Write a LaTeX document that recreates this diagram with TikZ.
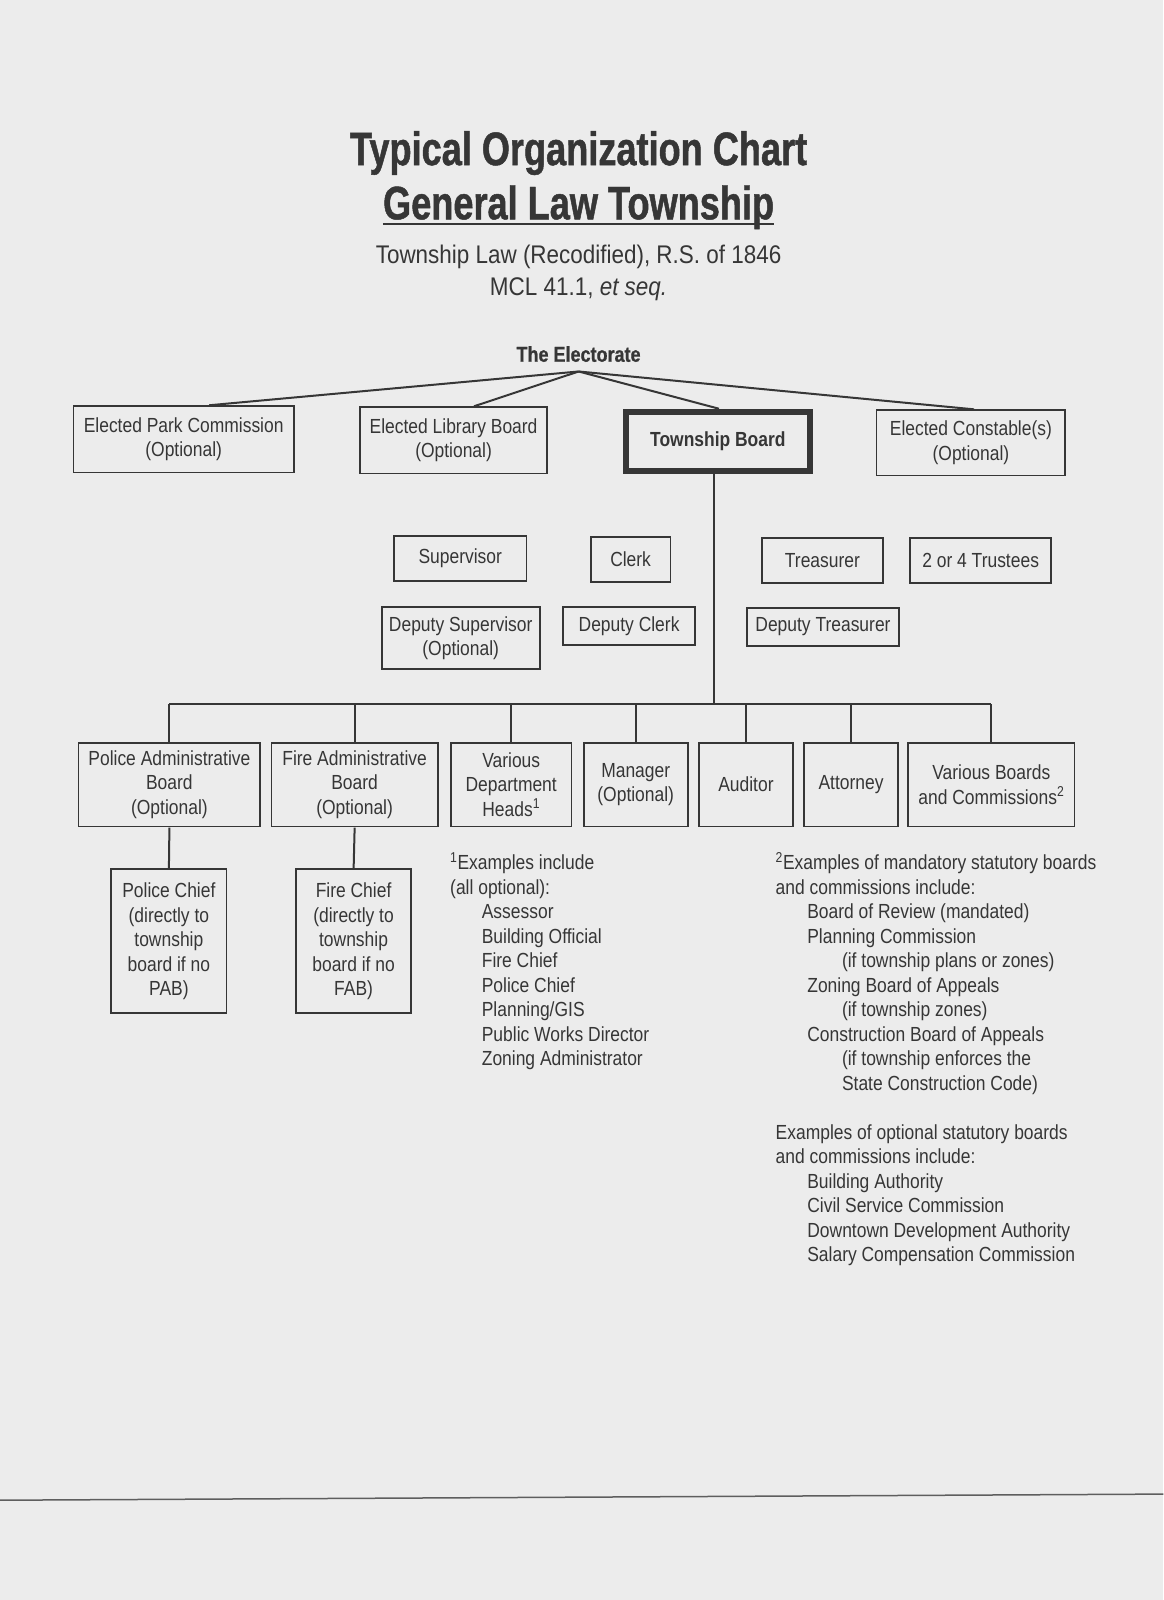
\documentclass[tikz,border=0pt]{standalone}
\usepackage{fontspec}
\setmainfont[FakeStretch=0.855]{Liberation Sans}
\newfontfamily\titlefont[FakeStretch=0.77,BoldFeatures={FakeBold=1}]{Liberation Sans}
\newfontfamily\subfont[FakeStretch=0.88]{Liberation Sans}
\newfontfamily\elecfont[FakeStretch=0.84,BoldFeatures={FakeBold=0.8}]{Liberation Sans}
\definecolor{ink}{HTML}{363636}
\definecolor{paper}{HTML}{ECECEC}
\begin{document}
\begin{tikzpicture}[x=1pt,y=-1pt,scale=1.0202,transform shape,
  every node/.style={text=ink},
  box/.style={draw=ink, line width=1.8pt, inner sep=2pt, align=center,
     font=\fontsize{20}{24}\selectfont},
  wire/.style={draw=ink, line width=2pt},
  note/.style={anchor=north west, inner sep=0pt, align=left,
     font=\fontsize{20}{24}\selectfont}]
\fill[paper] (0,0) rectangle (1140,1568);
\useasboundingbox (0,0) rectangle (1140,1568);

% titles
\node[inner sep=0pt, font=\titlefont\bfseries\fontsize{46}{50}\selectfont] (t1) at (567,150) {Typical Organization Chart};
\node[inner sep=0pt, font=\titlefont\bfseries\fontsize{46}{50}\selectfont] (t2) at (567,203) {General Law Township};
\draw[draw=ink, line width=2.6pt] ([yshift=-4.5pt]t2.base west) -- ([yshift=-4.5pt]t2.base east);
\node[font=\subfont\fontsize{25}{28}\selectfont] (t3) at (567,252) {Township Law (Recodified), R.S. of 1846};
\node[font=\subfont\fontsize{25}{28}\selectfont] (t4) at (567,283) {MCL 41.1, \textit{et seq.}};

% electorate
\node[font=\elecfont\bfseries\fontsize{21}{24}\selectfont] (elec) at (567,347) {The Electorate};
\coordinate (apex) at (567,364);

% top row
\node[box, minimum width=216pt, minimum height=65pt] (park) at (180,430.5) {Elected Park Commission\\(Optional)};
\node[box, minimum width=183pt, minimum height=65pt] (lib) at (444.5,431.5) {Elected Library Board\\(Optional)};
\node[box, line width=6pt, minimum width=180pt, minimum height=58pt, font=\bfseries\fontsize{20}{24}\selectfont] (tb) at (703.5,432.5) {Township Board};
\node[box, minimum width=185pt, minimum height=64pt] (const) at (951.5,434) {Elected Constable(s)\\(Optional)};

\draw[wire] (apex) -- ([xshift=25pt]park.north);
\draw[wire] (apex) -- ([xshift=20pt]lib.north);
\draw[wire] (apex) -- ([xshift=1pt]tb.north);
\draw[wire] (apex) -- ([xshift=3pt]const.north);

% officers
\node[box, minimum width=130pt, minimum height=44pt] (sup) at (451,547) {Supervisor};
\node[box, minimum width=78pt, minimum height=44pt] (clerk) at (618,548) {Clerk};
\node[box, minimum width=118pt, minimum height=44pt] (treas) at (806,549) {Treasurer};
\node[box, minimum width=138pt, minimum height=44pt] (trust) at (961,549) {2 or 4 Trustees};
\node[box, minimum width=155pt, minimum height=61pt] (dsup) at (451.5,625.5) {Deputy Supervisor\\(Optional)};
\node[box, minimum width=129pt, minimum height=37pt] (dclerk) at (616.5,613.5) {Deputy Clerk};
\node[box, minimum width=149pt, minimum height=37pt] (dtreas) at (806.5,614.5) {Deputy Treasurer};

% bottom row
\coordinate (bus) at (700,690);
\node[box, minimum width=178pt, minimum height=82pt] (pab) at (166,769) {Police Administrative\\Board\\(Optional)};
\node[box, minimum width=163pt, minimum height=82pt] (fab) at (347.5,769) {Fire Administrative\\Board\\(Optional)};
\node[box, minimum width=118pt, minimum height=82pt] (vdh) at (501,769) {Various\\Department\\Heads\textsuperscript{1}};
\node[box, minimum width=102pt, minimum height=82pt] (mgr) at (623,769) {Manager\\(Optional)};
\node[box, minimum width=92pt, minimum height=82pt] (aud) at (731,769) {Auditor};
\node[box, minimum width=92pt, minimum height=82pt] (att) at (834,769) {Attorney};
\node[box, minimum width=163pt, minimum height=82pt] (vbc) at (971.5,769) {Various Boards\\and Commissions\textsuperscript{2}};

\draw[wire] (tb.south -| bus) -- (bus);
\draw[wire] (pab.north |- bus) -- (vbc.north |- bus);
\foreach \n in {pab,fab,vdh,mgr,aud,att,vbc}
  \draw[wire] (\n.north |- bus) -- (\n.north);

% chiefs
\node[box, minimum width=113pt, minimum height=141pt] (pc) at (165.5,922.5) {Police Chief\\(directly to\\township\\board if no\\PAB)};
\node[box, minimum width=113pt, minimum height=141pt] (fc) at (346.5,922.5) {Fire Chief\\(directly to\\township\\board if no\\FAB)};
\draw[wire] (pab.south) -- (pc.north);
\draw[wire] (fab.south) -- (fc.north);

% footnote 1
\node[note] (n1) at (441,835) {\textsuperscript{1}Examples include\\(all optional):\\
\hspace*{31pt}Assessor\\
\hspace*{31pt}Building Official\\
\hspace*{31pt}Fire Chief\\
\hspace*{31pt}Police Chief\\
\hspace*{31pt}Planning/GIS\\
\hspace*{31pt}Public Works Director\\
\hspace*{31pt}Zoning Administrator};

% footnote 2
\node[note] (n2) at (760,835) {\textsuperscript{2}Examples of mandatory statutory boards\\and commissions include:\\
\hspace*{31pt}Board of Review (mandated)\\
\hspace*{31pt}Planning Commission\\
\hspace*{65pt}(if township plans or zones)\\
\hspace*{31pt}Zoning Board of Appeals\\
\hspace*{65pt}(if township zones)\\
\hspace*{31pt}Construction Board of Appeals\\
\hspace*{65pt}(if township enforces the\\
\hspace*{65pt}State Construction Code)\\[24pt]
Examples of optional statutory boards\\and commissions include:\\
\hspace*{31pt}Building Authority\\
\hspace*{31pt}Civil Service Commission\\
\hspace*{31pt}Downtown Development Authority\\
\hspace*{31pt}Salary Compensation Commission};

% scan edge line
\coordinate (la) at (0,1470);
\coordinate (lb) at (1140,1464);
\draw[draw=ink!80, line width=1.5pt] (la) -- (lb);
\end{tikzpicture}
\end{document}
